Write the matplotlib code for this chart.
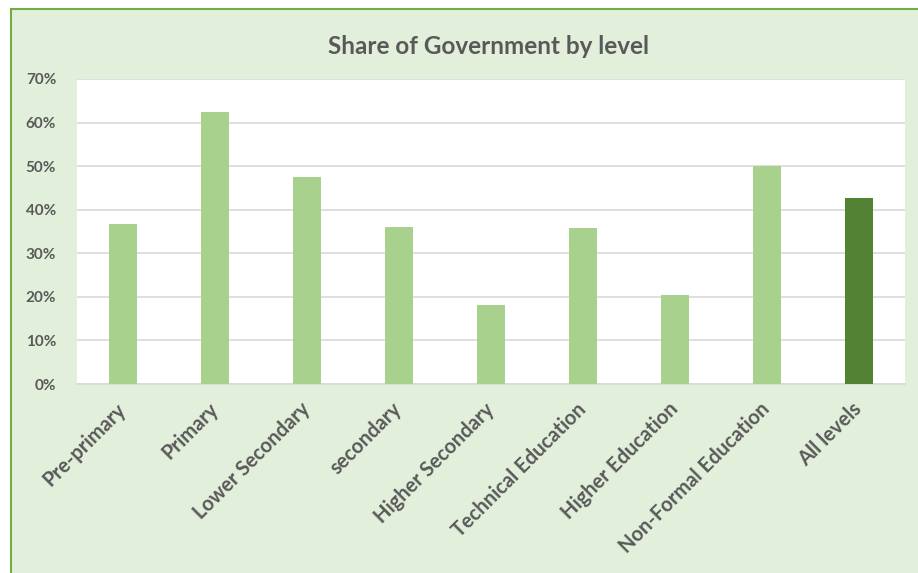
import matplotlib.pyplot as plt
from matplotlib.patches import Rectangle
from matplotlib.ticker import PercentFormatter
import numpy as np

# Data
levels = ['Pre-primary', 'Primary', 'Lower Secondary', 'secondary',
          'Higher Secondary', 'Technical Education', 'Higher Education',
          'Non-Formal Education', 'All levels']
share = [36.7, 62.4, 47.5, 36.0, 18.1, 35.8, 20.4, 50.0, 42.7]

light = '#A9D18E'
dark = '#548235'
bg = '#E2EFDA'
txt = '#595959'

plt.rcParams['font.family'] = ['Lato', 'DejaVu Sans']

fig = plt.figure(figsize=(9.18, 5.73), dpi=100, facecolor='white')
W, H = 918, 573
# chart area background + border (cropped on right/bottom)
fig.patches.append(Rectangle((11 / W, -0.1), 1.2, 1 - 9 / H + 0.1,
                             transform=fig.transFigure, facecolor=bg,
                             edgecolor='#70AD47', linewidth=1.5, zorder=-10))

ax = fig.add_axes([77 / W, 1 - 384 / H, 828 / W, 305 / H])
ax.set_facecolor('white')

x = np.arange(len(levels))
colors = [light] * (len(levels) - 1) + [dark]
ax.bar(x, share, width=0.31, color=colors, zorder=3)

ax.set_xlim(-0.5, len(levels) - 0.5)
ax.set_ylim(0, 70)
ax.set_yticks(np.arange(0, 71, 10))
ax.yaxis.set_major_formatter(PercentFormatter(decimals=0))
ax.grid(axis='y', color='#D9D9D9', linewidth=1.2, zorder=0)
for s in ['top', 'right', 'left']:
    ax.spines[s].set_visible(False)
ax.spines['bottom'].set_color('#D9D9D9')
ax.spines['bottom'].set_linewidth(1.2)
ax.tick_params(axis='both', length=0, colors=txt)
ax.tick_params(axis='y', pad=15, labelsize=11)
for lab in ax.get_yticklabels():
    lab.set_fontweight('bold')

ax.set_xticks(x)
ax.set_xticklabels(levels, rotation=45, ha='right', va='center',
                   rotation_mode='anchor', fontweight='bold', fontsize=14.5,
                   color=txt)
ax.tick_params(axis='x', pad=16)

fig.text(488 / W, 1 - 46 / H, 'Share of Government by level', ha='center',
         va='center', fontsize=17.5, fontweight='bold', color=txt)

fig.savefig('out.png', dpi=100, facecolor=fig.get_facecolor())
